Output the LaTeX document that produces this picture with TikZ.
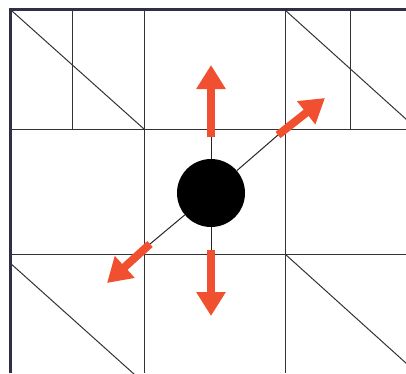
\documentclass[tikz,border=0pt]{standalone}
\usetikzlibrary{arrows.meta}

\tikzset{
  gridline/.style={black!80, line width=1pt},
  push/.style={pushRed, line width=8pt, line cap=butt,
    -{Triangle[width=28pt,length=24pt]}},
  tether/.style={black!85, line width=1pt}
}

\begin{document}
\begin{tikzpicture}[x=1pt, y=-1pt]

  \definecolor{pushRed}{RGB}{240,80,48}        % force arrows
  \definecolor{frameBlue}{RGB}{46,48,72}       % outer frame

\useasboundingbox (0,0) rectangle (406,373);
\clip (0,0) rectangle (406,373);

% grid of cells
\draw[gridline] (11,129) -- (406,129);
\draw[gridline] (11,254) -- (406,254);
\foreach \x in {144,285}
  \draw[gridline] (\x,10) -- (\x,373);
\foreach \x in {72,350}
  \draw[gridline] (\x,10) -- (\x,129);

% diagonals in the corner cells
\draw[gridline] (12,11) -- (144,129);
\draw[gridline] (285,10) -- (417,129);
\draw[gridline] (12,264.7) -- (144,383);
\draw[gridline] (285,254) -- (417,373);

% open frame: top and left only
\draw[frameBlue, line width=3pt] (10.5,373) -- (10.5,9.5) -- (406,9.5);

% the ball
\node[circle, fill=black, minimum size=68pt, inner sep=0pt] (ball) at (211,193) {};

% arrow ends
\coordinate (upTail) at (211,137);
\coordinate (upTip)  at (211,65);
\coordinate (dnTail) at (211,250);
\coordinate (dnTip)  at (211,316);
\coordinate (urTail) at (278,135);
\coordinate (urTip)  at (325,98);
\coordinate (dlTail) at (150,244);
\coordinate (dlTip)  at (107,283);

% thin tethers from the ball
\foreach \t in {upTail,dnTail,urTail,dlTail}
  \draw[tether] (ball) -- (\t);

% force arrows
\draw[push] (upTail) -- (upTip);
\draw[push] (dnTail) -- (dnTip);
\draw[push] (urTail) -- (urTip);
\draw[push] (dlTail) -- (dlTip);

\end{tikzpicture}
\end{document}
